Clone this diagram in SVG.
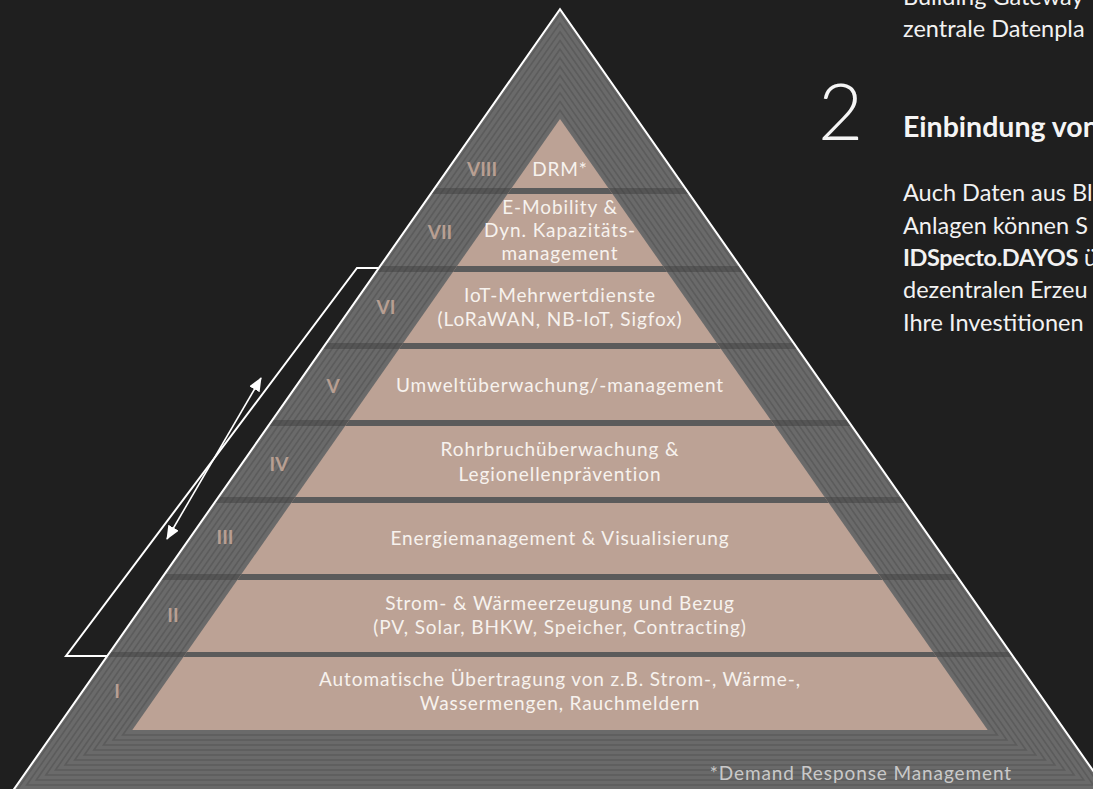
<svg xmlns="http://www.w3.org/2000/svg" width="1093" height="789" viewBox="0 0 1093 789">
<defs>
<style>
.lbl{font-family:Lato,"Open Sans","Liberation Sans",sans-serif;font-size:19px;letter-spacing:0.9px;fill:#f7f2ee;text-anchor:middle}
.num{font-family:Lato,"Liberation Sans",sans-serif;font-size:19px;font-weight:700;fill:#b89f92;text-anchor:middle}
.stripe{fill:none;stroke:#5c5c5c;stroke-width:1.6}
.body{font-family:Lato,"Liberation Sans",sans-serif;font-size:23.5px;fill:#f2f2f2}
.title{font-family:Lato,"Liberation Sans",sans-serif;font-size:28.5px;font-weight:700;fill:#f5f5f5}
.big{font-family:Lato,"Liberation Sans",sans-serif;font-size:78px;font-weight:300;fill:#f5f5f5}
.sepT{fill:#3c3c3c;fill-opacity:0.45}
.sepS{fill:#5b5b5b}
.wline{fill:none;stroke:#ffffff;stroke-width:2}
</style>
<clipPath id="outerClip"><polygon points="560,9.17 1108.68,793 11.32,793"/></clipPath>
<clipPath id="tanClip"><polygon points="560,119 987.7,730 132.3,730"/></clipPath>
<marker id="ah" markerUnits="userSpaceOnUse" markerWidth="14" markerHeight="12" viewBox="0 0 14 12" refX="13" refY="6" orient="auto-start-reverse">
<path d="M0,0 L14,6 L0,12 z" fill="#ffffff"/>
</marker>
</defs>
<rect x="0" y="0" width="1093" height="789" fill="#1f1f1f"/>
<g id="pyramid">
<polygon points="560,9.17 1108.68,793 11.32,793" fill="#6a6a6a"/>
<g class="stripe">
<polygon points="560,110.28 997.30,735 122.70,735"/>
<polygon points="560,101.57 1006.90,740 113.10,740"/>
<polygon points="560,92.85 1016.51,745 103.49,745"/>
<polygon points="560,84.13 1026.11,750 93.89,750"/>
<polygon points="560,75.42 1035.71,755 84.29,755"/>
<polygon points="560,66.70 1045.31,760 74.69,760"/>
<polygon points="560,57.98 1054.91,765 65.09,765"/>
<polygon points="560,49.26 1064.52,770 55.48,770"/>
<polygon points="560,40.55 1074.12,775 45.88,775"/>
<polygon points="560,31.83 1083.72,780 36.28,780"/>
<polygon points="560,23.11 1093.32,785 26.68,785"/>
<polygon points="560,14.40 1102.92,790 17.08,790"/>
</g>
<g clip-path="url(#outerClip)">
<rect class="sepT" x="0" y="188" width="1093" height="6"/>
<rect class="sepT" x="0" y="266" width="1093" height="6"/>
<rect class="sepT" x="0" y="343" width="1093" height="6"/>
<rect class="sepT" x="0" y="420" width="1093" height="6"/>
<rect class="sepT" x="0" y="497" width="1093" height="6"/>
<rect class="sepT" x="0" y="574" width="1093" height="6"/>
<rect class="sepT" x="0" y="652" width="1093" height="5"/>
</g>
<polygon points="560,119 987.7,730 132.3,730" fill="#bca295"/>
<g clip-path="url(#tanClip)">
<rect class="sepS" x="0" y="188" width="1093" height="6"/>
<rect class="sepS" x="0" y="266" width="1093" height="6"/>
<rect class="sepS" x="0" y="343" width="1093" height="6"/>
<rect class="sepS" x="0" y="420" width="1093" height="6"/>
<rect class="sepS" x="0" y="497" width="1093" height="6"/>
<rect class="sepS" x="0" y="574" width="1093" height="6"/>
<rect class="sepS" x="0" y="652" width="1093" height="5"/>
</g>
<polyline class="wline" points="11.32,793 560,9.17 1108.68,793"/>
</g>
<g id="layer-8"><text class="num" x="482" y="176">VIII</text><text class="lbl" x="560" y="176">DRM*</text></g>
<g id="layer-7"><text class="num" x="440" y="239">VII</text><text class="lbl" x="560" y="214">E-Mobility &amp;</text><text class="lbl" x="560" y="237">Dyn. Kapazitäts-</text><text class="lbl" x="560" y="260">management</text></g>
<g id="layer-6"><text class="num" x="386" y="314">VI</text><text class="lbl" x="560" y="302">IoT-Mehrwertdienste</text><text class="lbl" x="560" y="326">(LoRaWAN, NB-IoT, Sigfox)</text></g>
<g id="layer-5"><text class="num" x="333" y="393">V</text><text class="lbl" x="560" y="392">Umweltüberwachung/-management</text></g>
<g id="layer-4"><text class="num" x="279" y="471">IV</text><text class="lbl" x="560" y="456">Rohrbruchüberwachung &amp;</text><text class="lbl" x="560" y="481">Legionellenprävention</text></g>
<g id="layer-3"><text class="num" x="225" y="544">III</text><text class="lbl" x="560" y="545">Energiemanagement &amp; Visualisierung</text></g>
<g id="layer-2"><text class="num" x="173" y="622">II</text><text class="lbl" x="560" y="610">Strom- &amp; Wärmeerzeugung und Bezug</text><text class="lbl" x="560" y="634">(PV, Solar, BHKW, Speicher, Contracting)</text></g>
<g id="layer-1"><text class="num" x="117" y="698">I</text><text class="lbl" x="560" y="686">Automatische Übertragung von z.B. Strom-, Wärme-,</text><text class="lbl" x="560" y="710">Wassermengen, Rauchmeldern</text></g>
<g id="footnote"><text x="1012" y="780" font-family="Lato,'Liberation Sans',sans-serif" font-size="19" letter-spacing="0.9" fill="#c9c9c9" text-anchor="end">*Demand Response Management</text></g>
<g id="connectors">
<polyline class="wline" points="378,268 357,268 66,656 107,656"/>
<line x1="167" y1="539" x2="261" y2="378" stroke="#ffffff" stroke-width="1.6" marker-start="url(#ah)" marker-end="url(#ah)"/>
</g>
<g id="side-text">
<text class="body" x="903" y="5">Building Gateway</text>
<text class="body" x="903" y="37">zentrale Datenpla</text>
<text class="big" x="818" y="140">2</text>
<text class="title" x="903" y="137">Einbindung von</text>
<text class="body" x="903" y="201">Auch Daten aus Bl</text>
<text class="body" x="903" y="233.5">Anlagen können S</text>
<text class="body" x="903" y="266"><tspan font-weight="700" letter-spacing="-0.4">IDSpecto.DAYOS</tspan> ü</text>
<text class="body" x="903" y="298">dezentralen Erzeu</text>
<text class="body" x="903" y="330.5">Ihre Investitionen</text>
</g>
</svg>
